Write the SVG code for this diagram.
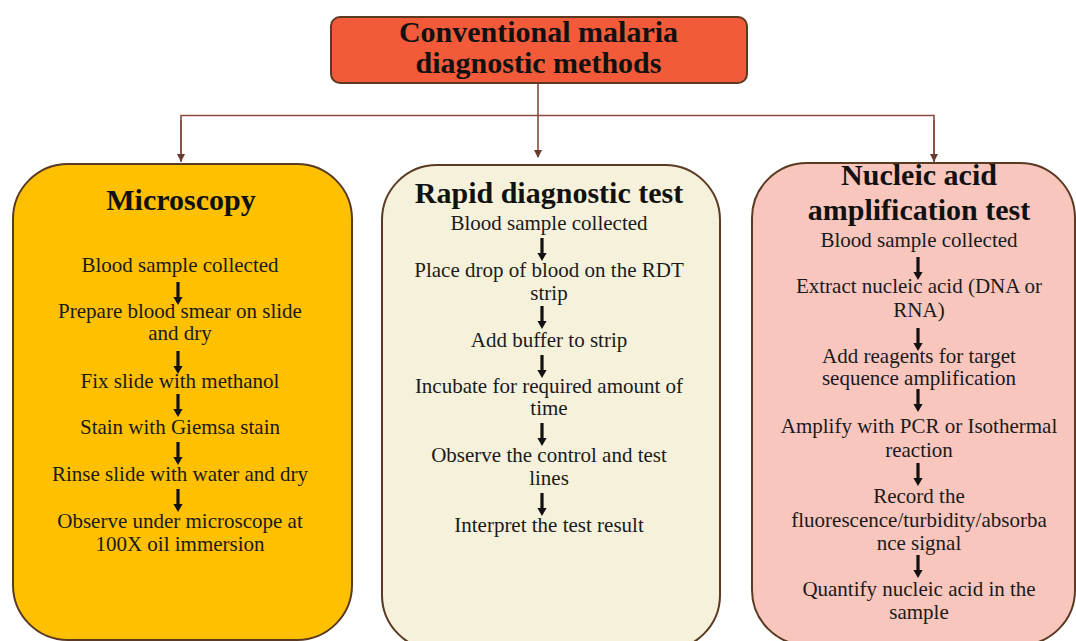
<svg xmlns="http://www.w3.org/2000/svg" xmlns:xlink="http://www.w3.org/1999/xlink" width="1076" height="641" viewBox="0 0 1076 641">
<defs>
<style>
.box{stroke:#5a3a22;stroke-width:2}
.t{font-family:"Liberation Serif","Times New Roman",serif;fill:#1a1a1a;text-anchor:middle;font-size:21px}
.h{font-family:"Liberation Serif","Times New Roman",serif;fill:#111;text-anchor:middle;font-size:30px;font-weight:bold}
.conn{fill:none;stroke:#8a4a3c;stroke-width:1.6}
</style>
<marker id="ah" markerWidth="8" markerHeight="8" refX="7" refY="4" orient="auto" markerUnits="userSpaceOnUse">
<path d="M0,0 L8,4 L0,8 z" fill="#6b3a2e"/>
</marker>
<path id="darr" d="M-1.6,0 h3.2 v15 h3 l-4.6,8 l-4.6,-8 h3 z" fill="#111"/>
</defs>
<rect width="1076" height="641" fill="#fff"/>

<g id="connectors">
<path class="conn" d="M538,83 V157" marker-end="url(#ah)"/>
<path class="conn" d="M181,162 V115.5 H934 V162" />
<path class="conn" d="M181,120 V161" marker-end="url(#ah)"/>
<path class="conn" d="M934,120 V161" marker-end="url(#ah)"/>
</g>

<g id="title">
<rect class="box" x="331" y="17" width="416" height="66" rx="9" fill="#F25A3A"/>
<text class="h" x="538.5" y="42">Conventional malaria</text>
<text class="h" x="538.5" y="73">diagnostic methods</text>
</g>

<g id="microscopy">
<rect class="box" x="13" y="164" width="339" height="476" rx="55" fill="#FFC000"/>
<text class="h" x="181" y="210">Microscopy</text>
<text class="t" x="180" y="272">Blood sample collected</text>
<text class="t" x="180" y="318">Prepare blood smear on slide</text>
<text class="t" x="180" y="340">and dry</text>
<text class="t" x="180" y="388">Fix slide with methanol</text>
<text class="t" x="180" y="434">Stain with Giemsa stain</text>
<text class="t" x="180" y="481">Rinse slide with water and dry</text>
<text class="t" x="180" y="528">Observe under microscope at</text>
<text class="t" x="180" y="551">100X oil immersion</text>
<use xlink:href="#darr" x="178" y="282"/>
<use xlink:href="#darr" x="178" y="351"/>
<use xlink:href="#darr" x="178" y="394"/>
<use xlink:href="#darr" x="178" y="442"/>
<use xlink:href="#darr" x="178" y="489"/>
</g>

<g id="rdt">
<rect class="box" x="382" y="165" width="338" height="485" rx="55" fill="#F6F1DA"/>
<text class="h" x="549" y="203">Rapid diagnostic test</text>
<text class="t" x="549" y="230">Blood sample collected</text>
<text class="t" x="549" y="277">Place drop of blood on the RDT</text>
<text class="t" x="549" y="300">strip</text>
<text class="t" x="549" y="347">Add buffer to strip</text>
<text class="t" x="549" y="393">Incubate for required amount of</text>
<text class="t" x="549" y="415">time</text>
<text class="t" x="549" y="462">Observe the control and test</text>
<text class="t" x="549" y="485">lines</text>
<text class="t" x="549" y="532">Interpret the test result</text>
<use xlink:href="#darr" x="542" y="238"/>
<use xlink:href="#darr" x="542" y="306"/>
<use xlink:href="#darr" x="542" y="355"/>
<use xlink:href="#darr" x="542" y="423"/>
<use xlink:href="#darr" x="542" y="493"/>
</g>

<g id="naat">
<rect class="box" x="752" y="163" width="323" height="482" rx="55" fill="#F9C6BE"/>
<text class="h" x="919" y="185">Nucleic acid</text>
<text class="h" x="919" y="220">amplification test</text>
<text class="t" x="919" y="247">Blood sample collected</text>
<text class="t" x="919" y="293">Extract nucleic acid (DNA or</text>
<text class="t" x="919" y="317">RNA)</text>
<text class="t" x="919" y="363">Add reagents for target</text>
<text class="t" x="919" y="385">sequence amplification</text>
<text class="t" x="919" y="433">Amplify with PCR or Isothermal</text>
<text class="t" x="919" y="457">reaction</text>
<text class="t" x="919" y="503">Record the</text>
<text class="t" x="919" y="527">fluorescence/turbidity/absorba</text>
<text class="t" x="919" y="550">nce signal</text>
<text class="t" x="919" y="596">Quantify nucleic acid in the</text>
<text class="t" x="919" y="619">sample</text>
<use xlink:href="#darr" x="918" y="257"/>
<use xlink:href="#darr" x="918" y="328"/>
<use xlink:href="#darr" x="918" y="389"/>
<use xlink:href="#darr" x="918" y="463"/>
<use xlink:href="#darr" x="918" y="555"/>
</g>
</svg>
